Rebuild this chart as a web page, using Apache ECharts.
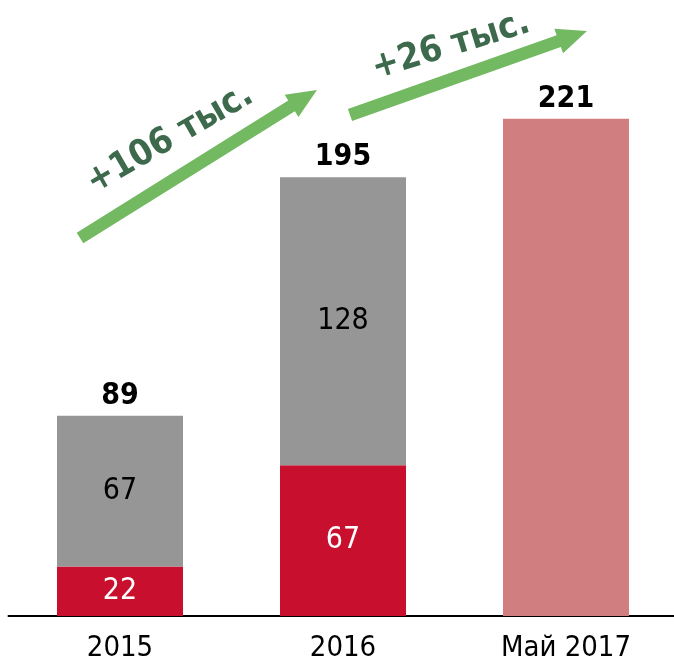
<!DOCTYPE html>
<html>
<head>
<meta charset="utf-8">
<script src="https://cdn.jsdelivr.net/npm/echarts@6/dist/echarts.min.js"></script>
<style>html,body{margin:0;padding:0;background:#fff;overflow:hidden;}#c{width:678px;height:664px;}</style>
</head>
<body>
<div id="c"></div>
<script>
var categories = ['2015', '2016', 'Май 2017'];
var redValues = [22, 67, null];
var grayValues = [67, 128, null];
var pinkValues = [null, null, 221];
var totals = [89, 195, 221];
var arrowLabels = ['+106 тыс.', '+26 тыс.'];

var FONT = '"DejaVu Sans Condensed", "DejaVu Sans", sans-serif';
var chart = echarts.init(document.getElementById('c'), null, {renderer: 'canvas'});

function arrowPoly(tail, tip, shaftW, headW, headL) {
  var dx = tip[0] - tail[0], dy = tip[1] - tail[1];
  var len = Math.sqrt(dx * dx + dy * dy);
  var ux = dx / len, uy = dy / len;
  var px = -uy, py = ux;
  var bx = tip[0] - ux * headL, by = tip[1] - uy * headL;
  var s = shaftW / 2, h = headW / 2;
  return [
    [tail[0] + px * s, tail[1] + py * s],
    [bx + px * s, by + py * s],
    [bx + px * h, by + py * h],
    [tip[0], tip[1]],
    [bx - px * h, by - py * h],
    [bx - px * s, by - py * s],
    [tail[0] - px * s, tail[1] - py * s]
  ];
}

var arrowColor = '#72B962';
var textColor = '#3D6A4C';

var option = {
  animation: false,
  backgroundColor: '#ffffff',
  grid: {left: 8.5, right: 0.5, top: 53.5, bottom: 48, containLabel: false},
  xAxis: {
    type: 'category',
    data: categories,
    axisLine: {show: true, lineStyle: {color: '#000', width: 2}},
    axisTick: {show: false},
    axisLabel: {color: '#000', fontSize: 29, fontFamily: FONT, margin: 18}
  },
  yAxis: {
    type: 'value', min: 0, max: 250,
    show: false, splitLine: {show: false}
  },
  series: [
    {
      type: 'bar', stack: 's', data: redValues, barWidth: 126,
      itemStyle: {color: '#C8102E'},
      label: {show: true, position: 'inside', color: '#fff', fontSize: 30, fontFamily: FONT}
    },
    {
      type: 'bar', stack: 's', data: grayValues, barWidth: 126,
      itemStyle: {color: '#969696'},
      label: {show: true, position: 'inside', color: '#000', fontSize: 30, fontFamily: FONT}
    },
    {
      type: 'bar', stack: 's', data: pinkValues, barWidth: 126,
      itemStyle: {color: '#D17E80'},
      label: {show: false}
    },
    {
      type: 'bar', stack: 's', data: totals.map(function () { return 0; }), barWidth: 126,
      itemStyle: {color: 'rgba(0,0,0,0)'},
      label: {
        show: true, position: 'top', distance: 5, color: '#000', fontSize: 30, fontWeight: 'bold', fontFamily: FONT,
        formatter: function (p) { return String(totals[p.dataIndex]); }
      }
    }
  ],
  graphic: []
};

var arrows = [
  {tail: [80, 238], tip: [317, 90], text: arrowLabels[0], tx: 170, ty: 139, rot: 30},
  {tail: [350, 115], tip: [587, 31], text: arrowLabels[1], tx: 451, ty: 46, rot: 17}
];
arrows.forEach(function (a) {
  option.graphic.push({
    type: 'polygon',
    shape: {points: arrowPoly(a.tail, a.tip, 12.5, 26, 30)},
    style: {fill: arrowColor}
  });
  option.graphic.push({
    type: 'text',
    x: a.tx, y: a.ty,
    rotation: a.rot * Math.PI / 180,
    style: {
      text: a.text, fill: textColor,
      fontSize: 36, fontWeight: 'bold', fontFamily: FONT,
      align: 'center', verticalAlign: 'middle'
    }
  });
});

chart.setOption(option);
</script>
</body>
</html>
